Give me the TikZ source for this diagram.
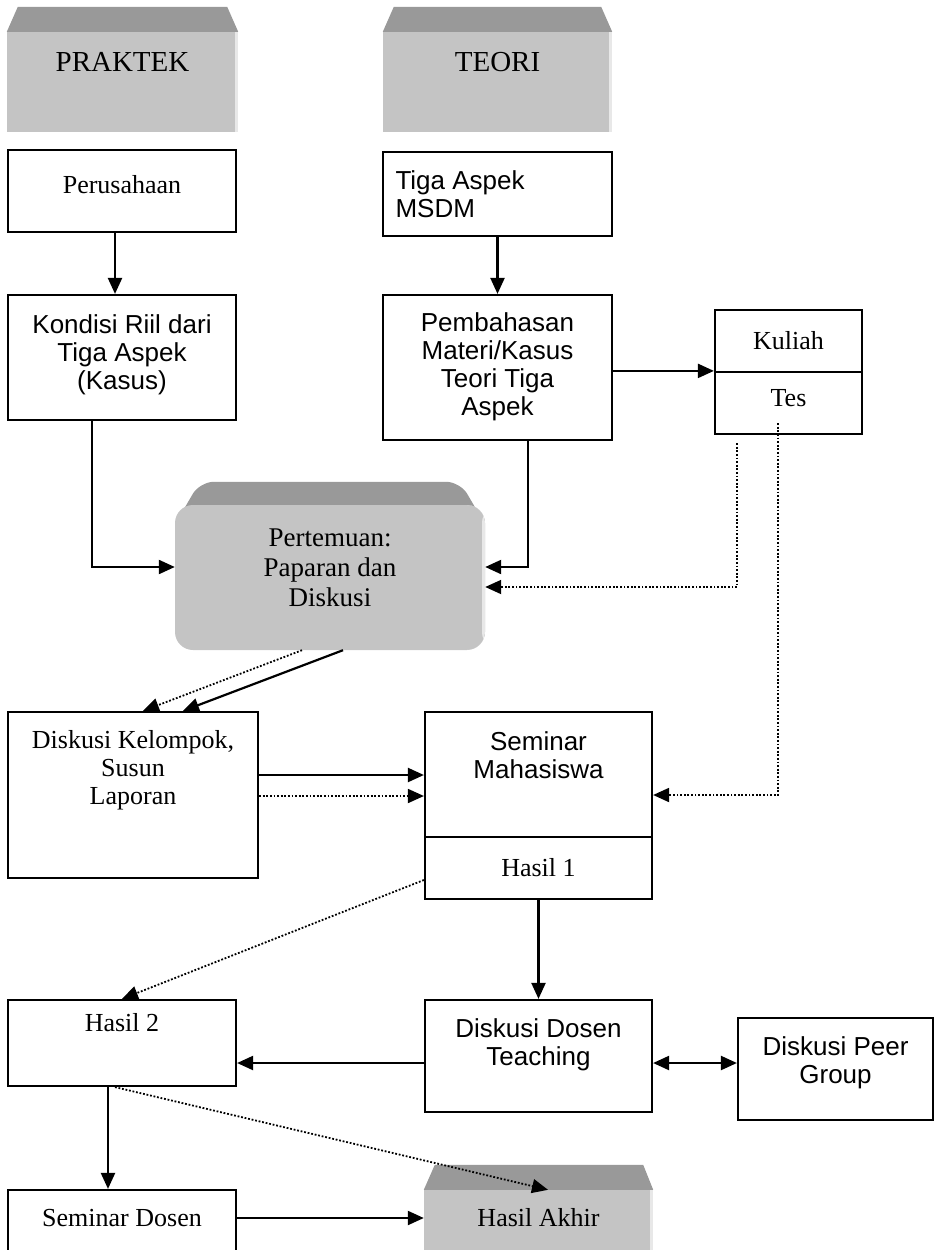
\documentclass[tikz,border=0pt]{standalone}
\usepackage{fontspec}
\setmainfont{Liberation Serif}
\newfontfamily\arialfont{Liberation Sans}
\usetikzlibrary{positioning,arrows.meta,calc,backgrounds}

\begin{document}
\begin{tikzpicture}[
    x=1pt, y=-1pt,
    every node/.style={font=\fontsize{26}{28}\selectfont},
    box/.style={draw, line width=2.2pt, inner sep=0pt},
    front/.style={fill=black!23, inner sep=0pt,
      path picture={\fill[black!9] ([xshift=-3pt]path picture bounding box.north east) rectangle (path picture bounding box.south east);}},
    topface/.style={fill=black!40},
    head/.style={font=\fontsize{29}{30}\selectfont},
    sans/.style={font=\arialfont\fontsize{26}{28}\selectfont, align=center},
    serif/.style={align=center},
    arr/.style={line width=2.2pt, -{Triangle[length=16pt,width=14pt]}},
    darr/.style={line width=2.2pt, {Triangle[length=16pt,width=14pt]}-{Triangle[length=16pt,width=14pt]}},
    dots/.style={line width=1.8pt, dash pattern=on 1.8pt off 1.8pt, -{Triangle[length=16pt,width=14pt]}}
  ]
  \useasboundingbox (0,0) rectangle (945,1250);

  % headers
  \node[front, minimum width=231pt, minimum height=100pt] (prak) at (122.5,82) {};
  \fill[topface] (prak.north west) -- ($(prak.north west)+(11,-25)$) -- ($(prak.north east)+(-11,-25)$) -- (prak.north east) -- cycle;
  \node[head] (praktxt) at (122.5,62) {PRAKTEK};
  \node[front, minimum width=229pt, minimum height=100pt] (teori) at (497.5,82) {};
  \fill[topface] (teori.north west) -- ($(teori.north west)+(11,-25)$) -- ($(teori.north east)+(-11,-25)$) -- (teori.north east) -- cycle;
  \node[head] (teoritxt) at (497.5,62) {TEORI};

  % left column
  \node[box, minimum width=228pt, minimum height=82pt] (perus) at (122,191) {};
  \node[serif] (perustxt) at (122,185) {Perusahaan};
  \node[box, minimum width=228pt, minimum height=125pt] (kondisi) at (122,357.5) {};
  \node[sans] (kondisitxt) at (122,355) {Kondisi Riil dari\\Tiga Aspek\\(Kasus)};

  % right column
  \node[box, minimum width=229pt, minimum height=84pt] (tiga) at (497.5,194) {};
  \node[sans, align=left, anchor=west] (tigatxt) at (392,194) {Tiga Aspek\\MSDM};
  \node[box, minimum width=229pt, minimum height=145pt] (bahas) at (497.5,367.5) {};
  \node[sans] (bahastxt) at (497.5,367) {Pembahasan\\Materi/Kasus\\Teori Tiga\\Aspek};
  \node[box, minimum width=147pt, minimum height=62pt] (kul) at (788.5,341) {Kuliah};
  \node[box, minimum width=147pt, minimum height=62pt] (tes) at (788.5,403) {};
  \node[serif] (testxt) at (788.5,398) {Tes};

  % pertemuan
  \node[front, rounded corners=18pt, minimum width=310pt, minimum height=145pt] (temu) at (330,577.5) {};
  \begin{scope}[on background layer]
    \fill[topface, rounded corners=14pt] ($(temu.north west)+(0,20)$) -- ($(temu.north west)+(25,-23)$) -- ($(temu.north east)+(-25,-23)$) -- ($(temu.north east)+(0,20)$) -- cycle;
  \end{scope}
  \node[serif, font=\fontsize{27}{30}\selectfont] (temutxt) at (330,568) {Pertemuan:\\Paparan dan\\Diskusi};

  % middle row
  \node[box, minimum width=250pt, minimum height=166pt] (dkel) at (133,795) {};
  \node[serif] (dkeltxt) at (133,770) {Diskusi Kelompok,\\Susun\\Laporan};
  \node[box, minimum width=227pt, minimum height=125pt] (sem) at (538.5,774.5) {};
  \node[sans] (semtxt) at (538.5,755) {Seminar\\Mahasiswa};
  \node[box, minimum width=227pt, minimum height=62pt] (has1) at (538.5,868) {Hasil 1};

  % lower rows
  \node[box, minimum width=228pt, minimum height=86pt] (has2) at (122,1043) {};
  \node[serif] (has2txt) at (122,1023) {Hasil 2};
  \node[box, minimum width=227pt, minimum height=112pt] (ddos) at (538.5,1056) {};
  \node[sans] (ddostxt) at (538.5,1045) {Diskusi Dosen\\Teaching};
  \node[box, minimum width=195pt, minimum height=102pt] (peer) at (835.5,1069) {};
  \node[sans] (peertxt) at (835.5,1063) {Diskusi Peer\\Group};
  \node[box, minimum width=228pt, minimum height=100pt] (semdos) at (122,1240) {};
  \node[serif] (semdostxt) at (122,1218) {Seminar Dosen};
  \node[front, minimum width=229pt, minimum height=100pt] (akhir) at (538.5,1240) {};
  \fill[topface] (akhir.north west) -- ($(akhir.north west)+(11,-25)$) -- ($(akhir.north east)+(-10,-25)$) -- (akhir.north east) -- cycle;
  \node[serif] (akhirtxt) at (538.5,1218) {Hasil Akhir};

  % connectors
  \draw[arr] ([xshift=-7pt]perus.south) -- ([xshift=-7pt]kondisi.north);
  \draw[arr] (tiga.south) -- (bahas.north);
  \draw[arr] (bahas.east |- tes.north west) -- (tes.north west);
  \draw[arr] ([xshift=-30pt]kondisi.south) |- ([yshift=10.5pt]temu.west);
  \draw[arr] ([xshift=30.5pt]bahas.south) |- ([yshift=10.5pt]temu.east);
  \draw[dots] ([xshift=-51.5pt,yshift=-8pt]tes.south) |- ([yshift=-9.5pt]temu.east);
  \draw[dots] ([xshift=-10.5pt,yshift=12pt]tes.south) |- ([yshift=-20.5pt]sem.east);
  \draw[arr] ([xshift=13pt]temu.south) -- ([xshift=50pt]dkel.north);
  \draw[dots] ([xshift=-28pt]temu.south) -- ([xshift=10pt]dkel.north);
  \draw[arr] ([yshift=20pt]dkel.east) -- ([yshift=20pt]dkel.east -| sem.west);
  \draw[dots] ([yshift=-1pt]dkel.east) -- ([yshift=-1pt]dkel.east -| sem.west);
  \draw[arr] (has1.south) -- (ddos.north);
  \draw[dots] ([yshift=-12pt]has1.west) -- (has2.north);
  \draw[arr] ([yshift=-7pt]ddos.west) -- ([yshift=-7pt]ddos.west -| has2.east);
  \draw[darr] ([yshift=-7pt]ddos.east) -- ([yshift=-7pt]ddos.east -| peer.west);
  \draw[arr] ([xshift=-14pt]has2.south) -- ([xshift=-14pt]semdos.north);
  \draw[dots] ([xshift=-7pt]has2.south) -- ([xshift=9.5pt]akhir.north);
  \draw[arr] ([yshift=22pt]semdos.east) -- ([yshift=22pt]semdos.east -| akhir.west);
\end{tikzpicture}
\end{document}
